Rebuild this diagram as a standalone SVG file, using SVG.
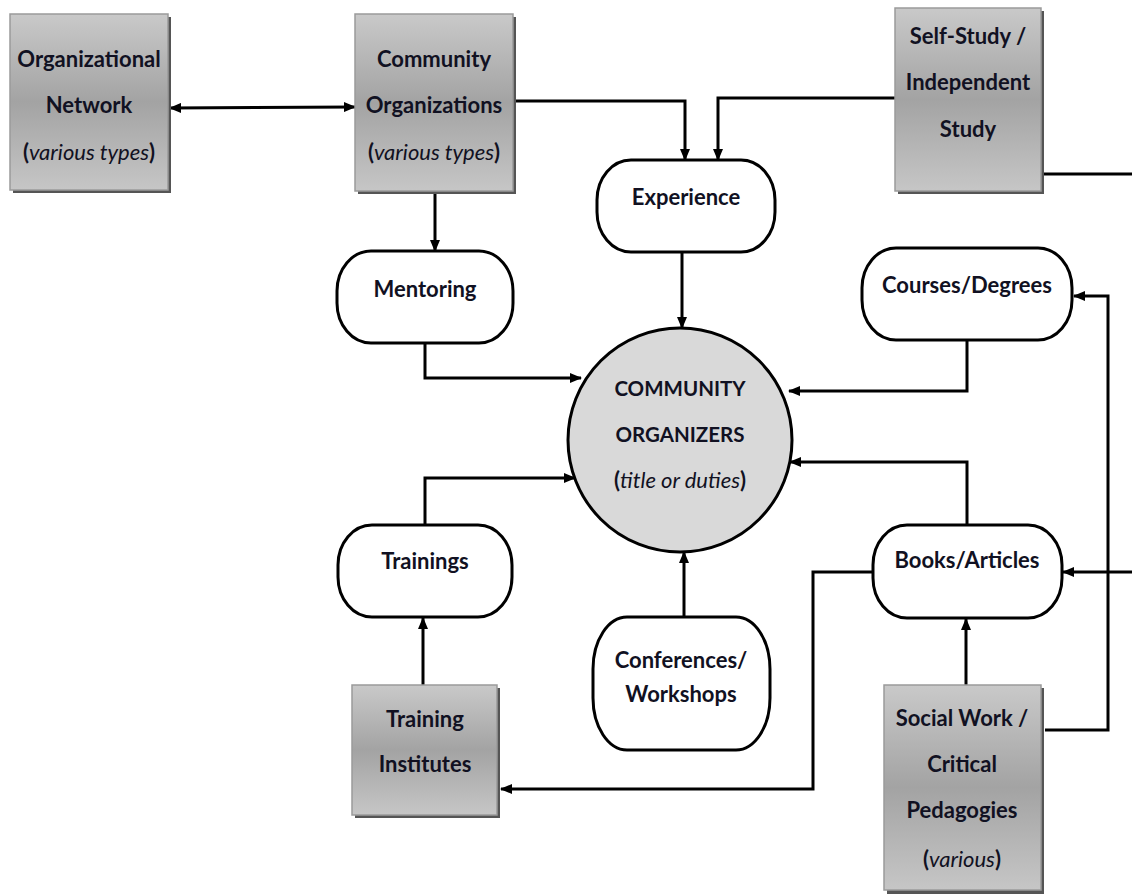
<svg xmlns="http://www.w3.org/2000/svg" width="1132" height="894" viewBox="0 0 1132 894">
<defs>
<linearGradient id="gray" x1="0" y1="0" x2="0" y2="1">
<stop offset="0" stop-color="#c9c9c9"/>
<stop offset="0.5" stop-color="#a3a3a3"/>
<stop offset="1" stop-color="#c6c6c6"/>
</linearGradient>
<marker id="ah" markerUnits="userSpaceOnUse" markerWidth="12" markerHeight="10" refX="11" refY="5" orient="auto-start-reverse" viewBox="0 0 12 10">
<path d="M0,0 L12,5 L0,10 z" fill="#000"/>
</marker>
<style>
.box{fill:url(#gray);stroke:#9a9a9a;stroke-width:1.5}
.shd{fill:#555}
.rn{fill:#fff;stroke:#000;stroke-width:3}
.t{font-family:Lato,"Open Sans","Liberation Sans",sans-serif;font-weight:bold;font-size:22px;fill:#111122;text-anchor:middle}
.cap{font-size:20.5px}
.i{font-style:italic;font-weight:normal}
.c{fill:none;stroke:#000;stroke-width:3;marker-end:url(#ah)}
.cn{fill:none;stroke:#000;stroke-width:3}
</style>
</defs>
<rect width="1132" height="894" fill="#fff"/>

<g id="connectors">
<path class="c" d="M170,108 L355,107" marker-start="url(#ah)"/>
<path class="c" d="M513,101 L685,101 L685,160"/>
<path class="c" d="M895,98 L718,98 L718,160"/>
<path class="c" d="M435,192 L435,251"/>
<path class="c" d="M682,252 L682,328"/>
<path class="c" d="M425,343 L425,378 L581,378"/>
<path class="c" d="M967,340 L967,391 L789,391"/>
<path class="c" d="M967,525 L967,462 L790,462"/>
<path class="c" d="M425,525 L425,478 L575,478"/>
<path class="c" d="M684,617 L684,552"/>
<path class="c" d="M423,685 L423,618"/>
<path class="c" d="M873,572 L813,572 L813,789 L501,789"/>
<path class="cn" d="M1043,174 L1132,174"/>
<path class="c" d="M1132,572 L1063,572"/>
<path class="c" d="M1045,730 L1108,730 L1108,296 L1074,296"/>
<path class="c" d="M966,685 L966,619"/>
</g>

<g id="org-network">
<rect class="shd" x="13" y="17" width="158" height="176"/>
<rect class="box" x="10" y="14" width="158" height="176"/>
<text class="t" x="89" y="67">Organizational</text>
<text class="t" x="89" y="113">Network</text>
<text class="t" x="89" y="160">(<tspan class="i">various types</tspan>)</text>
</g>

<g id="community-orgs">
<rect class="shd" x="358" y="17" width="158" height="177"/>
<rect class="box" x="355" y="14" width="158" height="177"/>
<text class="t" x="434" y="67">Community</text>
<text class="t" x="434" y="113">Organizations</text>
<text class="t" x="434" y="160">(<tspan class="i">various types</tspan>)</text>
</g>

<g id="self-study">
<rect class="shd" x="898" y="11" width="146" height="183"/>
<rect class="box" x="895" y="8" width="146" height="183"/>
<text class="t" x="968" y="44">Self-Study /</text>
<text class="t" x="968" y="90">Independent</text>
<text class="t" x="968" y="137">Study</text>
</g>

<g id="experience">
<rect class="rn" x="597" y="160" width="178" height="92" rx="34" ry="40"/>
<text class="t" x="686" y="205">Experience</text>
</g>

<g id="mentoring">
<rect class="rn" x="337" y="251" width="176" height="92" rx="34" ry="40"/>
<text class="t" x="425" y="297">Mentoring</text>
</g>

<g id="courses">
<rect class="rn" x="862" y="248" width="210" height="92" rx="34" ry="40"/>
<text class="t" x="967" y="293">Courses/Degrees</text>
</g>

<g id="community-organizers">
<circle cx="680" cy="440" r="112" fill="#d9d9d9" stroke="#000" stroke-width="3"/>
<text class="t cap" x="680" y="396">COMMUNITY</text>
<text class="t cap" x="680" y="442">ORGANIZERS</text>
<text class="t" x="680" y="488">(<tspan class="i">title or duties</tspan>)</text>
</g>

<g id="trainings">
<rect class="rn" x="338" y="525" width="174" height="92" rx="34" ry="40"/>
<text class="t" x="425" y="569">Trainings</text>
</g>

<g id="books">
<rect class="rn" x="873" y="525" width="189" height="93" rx="34" ry="40"/>
<text class="t" x="967" y="568">Books/Articles</text>
</g>

<g id="conferences">
<rect class="rn" x="593" y="617" width="177" height="133" rx="34" ry="52"/>
<text class="t" x="681" y="668">Conferences/</text>
<text class="t" x="681" y="702">Workshops</text>
</g>

<g id="training-institutes">
<rect class="shd" x="355" y="688" width="145" height="130"/>
<rect class="box" x="352" y="685" width="145" height="130"/>
<text class="t" x="425" y="727">Training</text>
<text class="t" x="425" y="772">Institutes</text>
</g>

<g id="social-work">
<rect class="shd" x="887" y="688" width="157" height="206"/>
<rect class="box" x="884" y="685" width="157" height="205"/>
<text class="t" x="962" y="726">Social Work /</text>
<text class="t" x="962" y="772">Critical</text>
<text class="t" x="962" y="818">Pedagogies</text>
<text class="t" x="962" y="867">(<tspan class="i">various</tspan>)</text>
</g>
</svg>
